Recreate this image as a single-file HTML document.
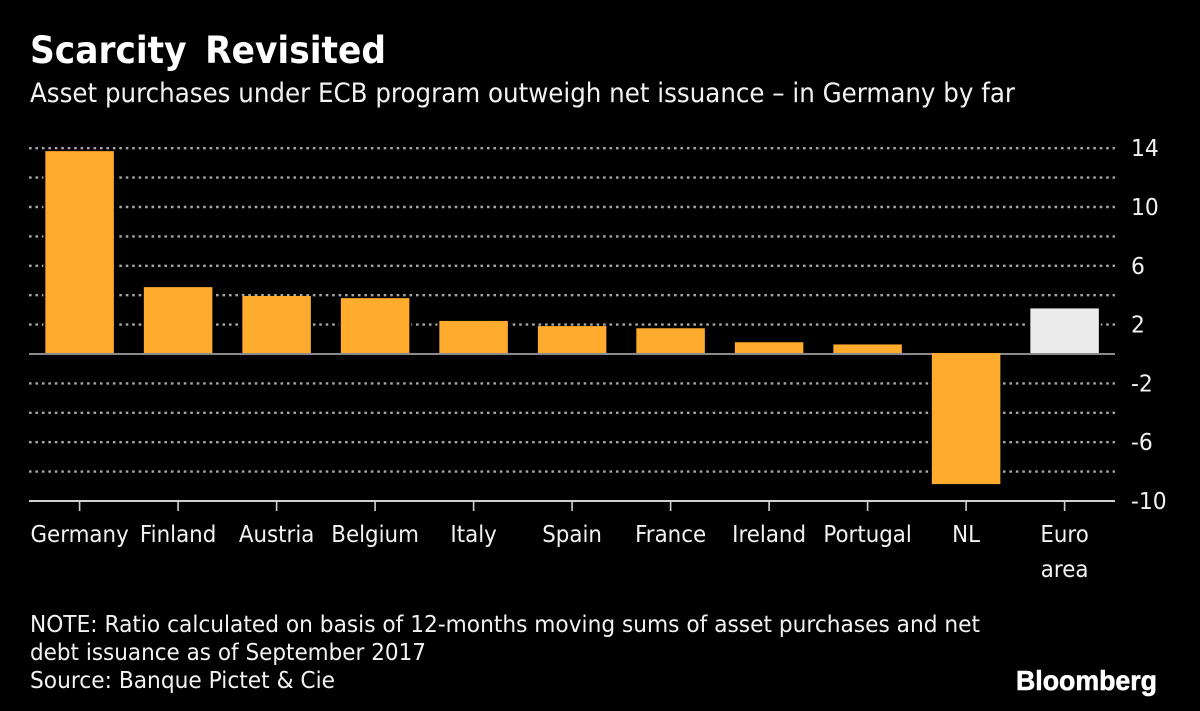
<!DOCTYPE html>
<html lang="en">
<head>
<meta charset="utf-8">
<title>Scarcity Revisited</title>
<style>
html,body{margin:0;padding:0;background:#000;}
svg{display:block;}
text{font-family:"DejaVu Sans","Liberation Sans",sans-serif;fill:#f2f2f2;}
</style>
</head>
<body>
<svg id="chart" width="1200" height="711" viewBox="0 0 1200 711" xmlns="http://www.w3.org/2000/svg">
<rect x="0" y="0" width="1200" height="711" fill="#000"/>
<text x="30" y="63" font-size="37" font-weight="bold" style="fill:#fff;word-spacing:7px" textLength="356" lengthAdjust="spacingAndGlyphs">Scarcity Revisited</text>
<text x="30" y="102" font-size="26.5" textLength="985" lengthAdjust="spacingAndGlyphs">Asset purchases under ECB program outweigh net issuance – in Germany by far</text>
<g id="grid"></g>
<g id="bars"></g>
<g id="axes"></g>
<text x="30" y="632" font-size="23.5" textLength="950" lengthAdjust="spacingAndGlyphs">NOTE: Ratio calculated on basis of 12-months moving sums of asset purchases and net</text>
<text x="30" y="660" font-size="23.5" textLength="396" lengthAdjust="spacingAndGlyphs">debt issuance as of September 2017</text>
<text x="30" y="688" font-size="23.5" textLength="305" lengthAdjust="spacingAndGlyphs">Source: Banque Pictet &amp; Cie</text>
<text x="1016" y="690" font-size="27.5" font-weight="bold" stroke="#fff" stroke-width="0.6" style="font-family:'Liberation Sans',sans-serif;fill:#fff" textLength="141" lengthAdjust="spacingAndGlyphs">Bloomberg</text>
</svg>
<script>
const categories = ["Germany","Finland","Austria","Belgium","Italy","Spain","France","Ireland","Portugal","NL","Euro area"];
const values = [13.8,4.55,3.95,3.8,2.25,1.9,1.75,0.8,0.65,-8.85,3.1];
const gridValues = [14,12,10,8,6,4,2,-2,-4,-6,-8];
const tickLabels = [14,10,6,2,-2,-6,-10];

const SVG_NS = "http://www.w3.org/2000/svg";
const plotLeft = 29, plotRight = 1115, zeroY = 354, unitPx = 14.7;
const firstCenter = 79.6, bandStep = 98.5, barWidth = 68.5;
const axisMin = -10;

function yScale(v){ return zeroY - v * unitPx; }
function xCenter(i){ return firstCenter + i * bandStep; }
function make(tag, attrs, parent){
  const el = document.createElementNS(SVG_NS, tag);
  for (const k in attrs) el.setAttribute(k, attrs[k]);
  parent.appendChild(el);
  return el;
}

const grid = document.getElementById("grid");
const bars = document.getElementById("bars");
const axes = document.getElementById("axes");

gridValues.forEach(function(v){
  const line = make("line", {x1:plotLeft, x2:plotRight, y1:yScale(v), y2:yScale(v), stroke:"#a6a6a6", "stroke-width":2.4, "stroke-dasharray":"2.6 3.85"}, grid);
  
  
});

const zeroLine = make("line", {x1:plotLeft, x2:plotRight, y1:zeroY, y2:zeroY, stroke:"#8a8a8a", "stroke-width":2}, bars);



values.forEach(function(v, i){
  const top = v >= 0 ? yScale(v) : zeroY - 1;
  const bottom = v >= 0 ? zeroY - 1 : yScale(v);
  const isAggregate = categories[i] === "Euro area";
  const rect = make("rect", {x:xCenter(i) - barWidth / 2, y:top, width:barWidth, height:bottom - top, fill:isAggregate ? "#ececec" : "#ffab2e"}, bars);
  
  
  const gapLeft = make("rect", {x:xCenter(i) - barWidth / 2 - 2, y:top, width:2, height:bottom - top, fill:"#000"}, grid);
  
  
  const gapRight = make("rect", {x:xCenter(i) + barWidth / 2, y:top, width:2, height:bottom - top, fill:"#000"}, grid);
  
  
});

const baseLine = make("line", {x1:plotLeft, x2:plotRight, y1:yScale(axisMin), y2:yScale(axisMin), stroke:"#d0d0d0", "stroke-width":2}, axes);



tickLabels.forEach(function(v){
  const t = make("text", {transform:"translate(1131," + (yScale(v) + 8) + ") scale(0.95,1)", "font-size":23}, axes);
  t.textContent = String(v);
  
  
});

categories.forEach(function(name, i){
  const tick = make("line", {x1:xCenter(i), x2:xCenter(i), y1:yScale(axisMin), y2:yScale(axisMin) + 10, stroke:"#d0d0d0", "stroke-width":1.6}, axes);
  
  
  name.split(" ").forEach(function(word, j){
    const t = make("text", {transform:"translate(" + xCenter(i) + "," + (542 + j * 35) + ") scale(0.93,1)", "font-size":23, "text-anchor":"middle"}, axes);
    t.textContent = word;
    
    
  });
});
</script>
</body>
</html>
